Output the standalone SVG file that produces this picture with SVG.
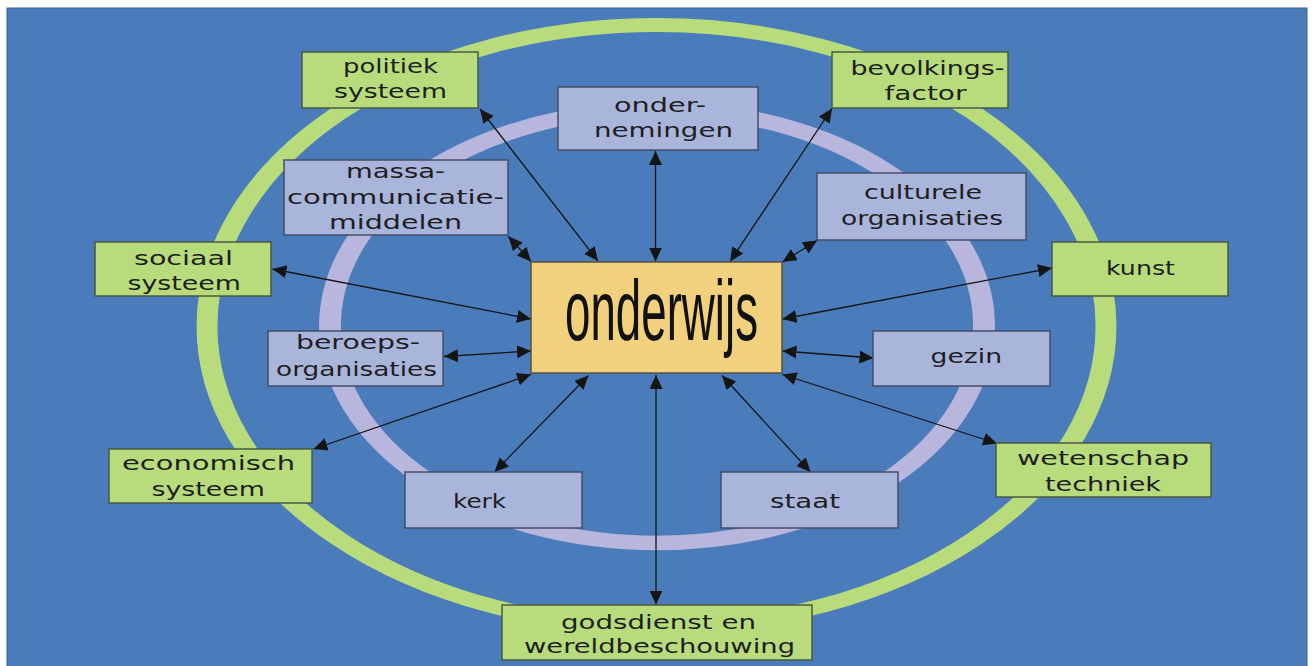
<svg xmlns="http://www.w3.org/2000/svg" width="1314" height="666" viewBox="0 0 1314 666">
<style>
.bg{fill:#4a7bbb;stroke:#3a5f90;stroke-width:1}
.ring-o{fill:none;stroke:#b8dc7c;stroke-width:14}
.ring-i{fill:none;stroke:#b9b6de;stroke-width:14.5}
.g{fill:#b8dc7c;stroke:#4a5a40;stroke-width:1.5}
.l{fill:#aab5db;stroke:#454d66;stroke-width:1.5}
.c{fill:#f1d07e;stroke:#5a5040;stroke-width:1.5}
text{font-family:"DejaVu Sans","Liberation Sans",sans-serif;font-size:20px;fill:#1e1e1e}
.big{font-family:"Liberation Sans",Arial,sans-serif;font-size:85px;fill:#111}
.conn line{stroke:#151515;stroke-width:1.3;marker-start:url(#ah);marker-end:url(#ah)}
</style>
<defs>
<marker id="ah" markerUnits="userSpaceOnUse" markerWidth="15" markerHeight="14" refX="14" refY="6.5" orient="auto-start-reverse" viewBox="0 0 15 14">
<path d="M0,0 L14,6.5 L0,13 z" fill="#151515"/>
</marker>
</defs>
<rect width="1314" height="666" fill="#ffffff"/>
<rect class="bg" x="7" y="8" width="1300" height="660"/>
<ellipse class="ring-o" cx="0" cy="0" rx="301" ry="301" transform="translate(656.5,326) scale(1.4934,1)"/>
<ellipse class="ring-i" cx="0" cy="0" rx="217" ry="217" transform="translate(657,326) scale(1.507,1)"/>
<g class="conn" id="connectors">
<line x1="598" y1="261" x2="480" y2="109"/>
<line x1="655.5" y1="261.5" x2="655.5" y2="151"/>
<line x1="730" y1="261.5" x2="832" y2="108.5"/>
<line x1="531" y1="261.5" x2="508.5" y2="236.5"/>
<line x1="782.5" y1="262" x2="817" y2="240.5"/>
<line x1="531" y1="319" x2="272.5" y2="269"/>
<line x1="782.5" y1="319" x2="1052" y2="268"/>
<line x1="531" y1="351" x2="444" y2="356.5"/>
<line x1="782.5" y1="351" x2="873.5" y2="358"/>
<line x1="531" y1="374.5" x2="313.5" y2="449"/>
<line x1="782.5" y1="374.5" x2="997" y2="443.5"/>
<line x1="588.5" y1="375.5" x2="494.5" y2="472"/>
<line x1="722" y1="375.5" x2="810.5" y2="472"/>
<line x1="656" y1="375" x2="656" y2="604.5"/>
</g>
<g id="onderwijs"><rect class="c" x="531" y="262" width="251" height="111"/><text class="big" x="565" y="340" textLength="193" lengthAdjust="spacingAndGlyphs">onderwijs</text></g>
<g id="politiek"><rect class="g" x="302" y="52" width="176" height="56"/><text x="343" y="73" textLength="95" lengthAdjust="spacingAndGlyphs">politiek</text><text x="334" y="98" textLength="113" lengthAdjust="spacingAndGlyphs">systeem</text></g>
<g id="bevolkings"><rect class="g" x="832" y="52" width="176" height="56"/><text x="850.5" y="75" textLength="154" lengthAdjust="spacingAndGlyphs">bevolkings-</text><text x="884.5" y="100" textLength="82" lengthAdjust="spacingAndGlyphs">factor</text></g>
<g id="ondernemingen"><rect class="l" x="558" y="87" width="200" height="63"/><text x="614" y="112" textLength="92" lengthAdjust="spacingAndGlyphs">onder-</text><text x="594" y="137" textLength="139" lengthAdjust="spacingAndGlyphs">nemingen</text></g>
<g id="massa"><rect class="l" x="284" y="160" width="224" height="75"/><text x="346" y="178" textLength="99" lengthAdjust="spacingAndGlyphs">massa-</text><text x="287" y="204" textLength="217" lengthAdjust="spacingAndGlyphs">communicatie-</text><text x="329" y="229" textLength="133" lengthAdjust="spacingAndGlyphs">middelen</text></g>
<g id="culturele"><rect class="l" x="817" y="173" width="209" height="67"/><text x="864" y="199" textLength="118" lengthAdjust="spacingAndGlyphs">culturele</text><text x="841" y="225" textLength="162" lengthAdjust="spacingAndGlyphs">organisaties</text></g>
<g id="sociaal"><rect class="g" x="95" y="242" width="176" height="54"/><text x="134" y="265" textLength="99" lengthAdjust="spacingAndGlyphs">sociaal</text><text x="127.5" y="290" textLength="113.5" lengthAdjust="spacingAndGlyphs">systeem</text></g>
<g id="kunst"><rect class="g" x="1052" y="242" width="176" height="54"/><text x="1106" y="275" textLength="69" lengthAdjust="spacingAndGlyphs">kunst</text></g>
<g id="beroeps"><rect class="l" x="268" y="331" width="175" height="55"/><text x="296" y="349" textLength="124" lengthAdjust="spacingAndGlyphs">beroeps-</text><text x="276" y="376" textLength="161" lengthAdjust="spacingAndGlyphs">organisaties</text></g>
<g id="gezin"><rect class="l" x="873" y="331" width="177" height="55"/><text x="930.5" y="363" textLength="71.5" lengthAdjust="spacingAndGlyphs">gezin</text></g>
<g id="economisch"><rect class="g" x="109" y="449" width="203" height="54"/><text x="122" y="470" textLength="173" lengthAdjust="spacingAndGlyphs">economisch</text><text x="151.5" y="496" textLength="113.5" lengthAdjust="spacingAndGlyphs">systeem</text></g>
<g id="wetenschap"><rect class="g" x="996" y="443" width="215" height="54"/><text x="1017" y="465" textLength="172" lengthAdjust="spacingAndGlyphs">wetenschap</text><text x="1045" y="491" textLength="116" lengthAdjust="spacingAndGlyphs">techniek</text></g>
<g id="kerk"><rect class="l" x="405" y="472" width="177" height="56"/><text x="453" y="508" textLength="53" lengthAdjust="spacingAndGlyphs">kerk</text></g>
<g id="staat"><rect class="l" x="721" y="472" width="177" height="56"/><text x="770" y="508" textLength="70" lengthAdjust="spacingAndGlyphs">staat</text></g>
<g id="godsdienst"><rect class="g" x="502" y="605" width="310" height="55"/><text x="561" y="629" textLength="195" lengthAdjust="spacingAndGlyphs">godsdienst en</text><text x="524" y="653" textLength="271" lengthAdjust="spacingAndGlyphs">wereldbeschouwing</text></g>
</svg>
